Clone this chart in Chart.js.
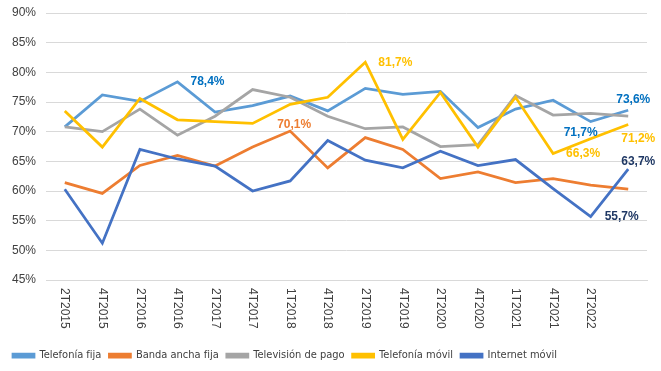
<!DOCTYPE html>
<html lang="es">
<head>
    <meta charset="UTF-8">
    <title>Penetración de servicios</title>
    <style>
        body { margin: 0; background: #fff; }
        #wrap { width: 661px; height: 371px; }
    </style>
</head>
<body>
    <div id="wrap"><canvas id="grafico"></canvas></div>

    <script src="https://cdn.jsdelivr.net/npm/chart.js@4/dist/chart.umd.min.js"></script>
    <script>
    // periodos (el último no lleva etiqueta en el eje)
    const periodos = ["2T2015", "4T2015", "2T2016", "4T2016", "2T2017", "4T2017", "1T2018", "4T2018",
                      "2T2019", "4T2019", "2T2020", "4T2020", "1T2021", "4T2021", "2T2022", ""];

    const telefoniaFija   = [70.8, 76.2, 75.1, 78.4, 73.3, 74.4, 76.0, 73.5, 77.3, 76.3, 76.8, 70.7, 73.8, 75.3, 71.7, 73.6];
    const bandaAnchaFija  = [61.4, 59.6, 64.3, 66.0, 64.2, 67.4, 70.1, 63.9, 69.0, 67.0, 62.1, 63.2, 61.4, 62.1, 61.0, 60.3];
    const television      = [70.8, 70.0, 73.8, 69.4, 72.6, 77.1, 75.8, 72.6, 70.5, 70.8, 67.5, 67.8, 76.1, 72.8, 73.1, 72.6];
    const telefoniaMovil  = [73.5, 67.4, 75.6, 72.0, 71.7, 71.4, 74.6, 75.8, 81.7, 68.7, 76.6, 67.4, 75.8, 66.3, 68.8, 71.2];
    const internetMovil   = [60.3, 51.2, 67.0, 65.4, 64.2, 60.0, 61.7, 68.5, 65.2, 63.9, 66.7, 64.3, 65.3, 60.4, 55.7, 63.7];

    // etiquetas de datos destacadas: [serie, punto, dx, dy, alineación, color]
    const etiquetas = [
        [0, 3, 13, 0, "left", "#0070C0"],
        [1, 6, 4, -6, "center", "#ED7D31"],
        [3, 8, 13, 0, "left", "#FFC000"],
        [0, 15, 5, -11, "center", "#0070C0"],
        [0, 14, -10, 11, "center", "#0070C0"],
        [3, 13, 13, 0, "left", "#FFC000"],
        [3, 15, 10, 14, "center", "#FFC000"],
        [4, 15, 10, -7, "center", "#1F3864"],
        [4, 14, 14, 0, "left", "#1F3864"]
    ];

    const fuente = "'Liberation Sans', Arial, sans-serif";
    const fuenteLeyenda = "'Liberation Sans Narrow', 'DejaVu Sans Condensed', sans-serif";

    // etiquetas del eje X giradas hacia abajo, como en Excel
    const ejeXGirado = {
        id: "ejeXGirado",
        afterDraw(chart) {
            const sc = chart.scales.x;
            const ctx = chart.ctx;
            ctx.save();
            ctx.font = "12px " + fuente;
            ctx.fillStyle = "#404040";
            ctx.textAlign = "left";
            ctx.textBaseline = "middle";
            periodos.forEach((p, i) => {
                ctx.save();
                ctx.translate(sc.getPixelForValue(i), sc.top + 8);
                ctx.rotate(Math.PI / 2);
                ctx.fillText(p, 0, 0);
                ctx.restore();
            });
            ctx.restore();
        }
    };

    const etiquetasDatos = {
        id: "etiquetasDatos",
        afterDatasetsDraw(chart) {
            const ctx = chart.ctx;
            ctx.save();
            ctx.font = "bold 12px " + fuente;
            ctx.textBaseline = "middle";
            etiquetas.forEach(([s, i, dx, dy, al, col]) => {
                const pt = chart.getDatasetMeta(s).data[i];
                const v = chart.data.datasets[s].data[i];
                ctx.fillStyle = col;
                ctx.textAlign = al;
                ctx.fillText(v.toFixed(1).replace(".", ",") + "%", pt.x + dx, pt.y + dy);
            });
            ctx.restore();
        }
    };

    function serie(nombre, datos, color, orden) {
        return {
            label: nombre,
            data: datos,
            borderColor: color,
            backgroundColor: color,
            borderWidth: 2.75,
            pointRadius: 0,
            tension: 0,
            order: orden
        };
    }

    const ctx = document.getElementById("grafico").getContext("2d");
    new Chart(ctx, {
        type: "line",
        data: {
            labels: periodos,
            datasets: [
                serie("Telefonía fija", telefoniaFija, "#5B9BD5", 5),
                serie("Banda ancha fija", bandaAnchaFija, "#ED7D31", 4),
                serie("Televisión de pago", television, "#A5A5A5", 3),
                serie("Telefonía móvil", telefoniaMovil, "#FFC000", 2),
                serie("Internet móvil", internetMovil, "#4472C4", 1)
            ]
        },
        options: {
            responsive: true,
            maintainAspectRatio: false,
            animation: false,
            layout: { padding: { top: 13, right: 14, left: 5, bottom: 0 } },
            scales: {
                x: {
                    offset: true,
                    grid: { display: false },
                    border: { color: "#D9D9D9" },
                    ticks: { display: false },
                    afterFit(scale) { scale.height = 62; }
                },
                y: {
                    min: 45,
                    max: 90,
                    border: { display: false },
                    grid: { color: "#D9D9D9", lineWidth: 1, drawTicks: false },
                    ticks: {
                        stepSize: 5,
                        padding: 10,
                        color: "#404040",
                        font: { family: fuente, size: 12 },
                        callback: v => v + "%"
                    },
                    afterFit(scale) {
                        scale.width = 41;
                        scale.paddingTop = 0;
                        scale.paddingBottom = 0;
                    }
                }
            },
            plugins: {
                legend: {
                    position: "bottom",
                    align: "start",
                    labels: {
                        boxWidth: 21,
                        boxHeight: 3,
                        padding: 8,
                        color: "#404040",
                        font: { family: fuenteLeyenda, size: 11 },
                        sort: (a, b) => a.datasetIndex - b.datasetIndex
                    }
                },
                tooltip: { enabled: false }
            }
        },
        plugins: [ejeXGirado, etiquetasDatos]
    });
    </script>
</body>
</html>
